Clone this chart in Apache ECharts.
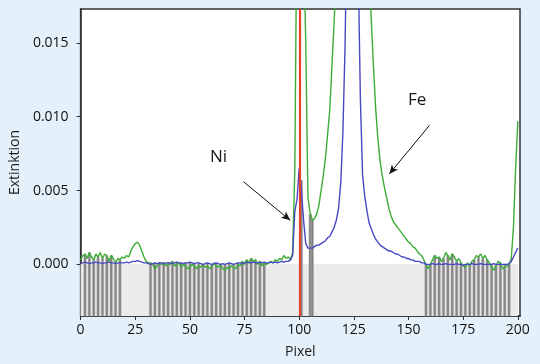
<!DOCTYPE html>
<html>
<head>
<meta charset="utf-8">
<script src="https://cdn.jsdelivr.net/npm/echarts@6/dist/echarts.min.js"></script>
<style>
html,body{margin:0;padding:0;background:#e4f1fb;}
#c{width:540px;height:364px;}
</style>
</head>
<body>
<div id="c"></div>
<script>
// Pixel index 0..200
const fe = [
0.0003,0.0006,0.0007,0.0004,0.0008,0.0005,0.0003,0.0007,0.0005,0.0008,
0.0004,0.0007,0.0006,0.0002,0.0006,0.0004,0.0001,0.0004,0.0003,0.0005,
0.0004,0.0006,0.0005,0.0009,0.0012,0.0014,0.0015,0.0013,0.0009,0.0005,
0.0002,0.0001,0.0001,0.0000,-0.0003,-0.0001,0.0001,0.0000,0.0001,-0.0001,
0.0001,0.0000,0.0002,-0.0001,0.0000,0.0001,-0.0002,0.0000,-0.0001,-0.0003,
-0.0002,0.0000,-0.0001,-0.0003,-0.0001,-0.0002,0.0000,-0.0002,-0.0001,-0.0003,
-0.0002,0.0001,-0.0001,-0.0002,0.0000,-0.0003,-0.0004,-0.0002,-0.0003,-0.0001,
-0.0002,-0.0003,0.0000,-0.0001,0.0002,0.0000,0.0003,0.0001,0.0004,0.0002,
0.0003,0.0000,0.0002,-0.0001,0.0001,0.0000,0.0001,0.0002,0.0001,0.0003,
0.0002,0.0004,0.0003,0.0006,0.0004,0.0005,0.0003,0.0008,0.0065,0.025,
0.035,0.030,0.022,0.015,0.0045,0.0035,0.0030,0.0031,0.0034,0.0040,
0.0050,0.0060,0.0072,0.0088,0.0105,0.0135,0.0165,0.0200,0.025,0.030,
0.035,0.040,0.045,0.048,0.050,0.050,0.048,0.045,0.040,0.035,
0.030,0.025,0.020,0.0165,0.0133,0.0105,0.0085,0.0070,0.0060,0.0052,
0.0045,0.0038,0.0033,0.0029,0.0027,0.0025,0.0023,0.0021,0.0019,0.0017,
0.0015,0.0014,0.0012,0.0011,0.0009,0.0007,0.0006,0.0003,0.0000,-0.0003,
0.0000,0.0003,0.0006,0.0004,0.0005,0.0002,0.0004,0.0008,0.0006,0.0003,
0.0007,0.0005,0.0002,0.0004,0.0001,-0.0001,-0.0002,0.0001,-0.0001,0.0002,
0.0003,0.0006,0.0005,0.0007,0.0004,0.0006,0.0003,0.0001,-0.0002,-0.0004,
-0.0001,0.0002,0.0001,-0.0003,-0.0002,-0.0001,0.0000,0.0004,0.0025,0.0065,
0.0097
];
const ni = [
0.0001,0.0001,0.00015,0.0001,0.00005,0.0001,0.0001,0.00015,0.0001,0.0001,
0.00005,0.0001,0.0001,0.00015,0.0001,0.0001,0.00005,0.0001,0.0001,0.0001,
0.0001,0.00015,0.0001,0.00015,0.0002,0.0002,0.00025,0.0002,0.00015,0.0001,
0.0001,0.00005,0.0000,0.00005,0.0001,0.00005,0.0001,0.0001,0.00005,0.0001,
0.0001,0.0001,0.00005,0.0001,0.00015,0.0001,0.0001,0.00005,0.0001,0.0001,
0.00015,0.0001,0.00005,0.0001,0.0001,0.00005,0.0000,0.00005,0.0001,0.00005,
0.0000,0.00005,0.0001,0.00005,0.0000,0.00005,0.0000,0.00005,0.0001,0.00005,
0.0000,0.00005,0.0001,0.0001,0.00005,0.0001,0.00015,0.0001,0.0001,0.00015,
0.0001,0.0001,0.00015,0.0001,0.00015,0.0001,0.0001,0.00015,0.0001,0.00015,
0.0001,0.00015,0.0002,0.00015,0.0002,0.0002,0.0003,0.0006,0.0036,0.0044,
0.0065,0.0050,0.0030,0.0014,0.0011,0.0011,0.0011,0.0012,0.0013,0.0013,
0.0014,0.0015,0.0016,0.0018,0.0019,0.0022,0.0025,0.0030,0.0038,0.0055,
0.0090,0.0150,0.025,0.035,0.040,0.040,0.035,0.020,0.0111,0.0060,
0.0046,0.0036,0.0028,0.0024,0.0020,0.0017,0.0015,0.0013,0.0012,0.0011,
0.0010,0.0009,0.0009,0.0008,0.0007,0.0007,0.0006,0.0005,0.0005,0.0004,
0.0004,0.0003,0.0003,0.0002,0.0002,0.0002,0.0001,0.0001,0.0000,0.0000,
0.0000,0.00005,0.0000,0.0000,0.00005,0.0000,0.0000,0.00005,0.0000,0.0000,
0.0000,0.0000,0.00005,0.0000,0.0000,-0.00005,0.0000,0.0000,0.0000,0.00005,
0.0000,0.0000,0.0000,0.00005,0.0000,0.0000,0.0000,0.0000,0.0000,0.00005,
0.0000,0.0000,0.0000,0.0000,0.0000,0.0000,0.00005,0.0002,0.0005,0.0008,
0.0011
];
const barPixels = [2,4,6,8,10,12,14,16,18,
32,34,36,38,40,42,44,46,48,50,52,54,56,58,60,62,64,66,68,70,72,74,76,78,80,82,84,
101,105,106,
158,160,162,164,166,168,170,172,174,176,178,180,182,184,186,188,190,192,194,196];
const barValues = [0.0007,0.0008,0.0003,0.0005,0.0004,0.0006,0.0006,0.0001,0.0003,
0.0001,0.0001,0.0001,0.0001,0.0001,0.0002,0.00015,0.0001,0.0001,0.00015,0.00005,0.0001,0.0000,0.0001,0.0000,0.0001,0.0000,0.0000,0.0001,0.0000,0.0001,0.0002,0.0003,0.0004,0.0003,0.0002,0.00015,
0.0057,0.0034,0.0030,
0.0000,0.0000,0.0006,0.0005,0.0004,0.0006,0.0007,0.0002,0.0001,0.0000,0.0000,0.0003,0.0005,0.0004,0.0003,0.0000,0.0000,0.0001,0.0000,0.0000];
const yTicks = [0, 0.005, 0.010, 0.015];
const xTicks = [0, 25, 50, 75, 100, 125, 150, 175, 200];
const markerPixel = 100.3;

const Y_MIN = -0.0035, Y_MAX = 0.0173, X_MIN = 0, X_MAX = 201;
const FONT = 'Open Sans';

const feData = fe.map((v, i) => [i, v]);
const niData = ni.map((v, i) => [i, v]);
const barData = barPixels.map((x, i) => [x, barValues[i]]);

const chart = echarts.init(document.getElementById('c'));
chart.setOption({
  backgroundColor: '#e4f1fb',
  animation: false,
  grid: {left: 80, right: 20, top: 9, bottom: 47, show: true, backgroundColor: '#ffffff', borderColor: '#333', borderWidth: 1.5},
  xAxis: {
    type: 'value', min: X_MIN, max: X_MAX,
    name: 'Pixel', nameLocation: 'middle', nameGap: 29,
    nameTextStyle: {fontFamily: FONT, fontSize: 14, color: '#1a1a1a'},
    axisLine: {show: true, onZero: false, lineStyle: {color: '#333', width: 1.5}},
    axisTick: {show: true, length: 4, lineStyle: {color: '#333'}, customValues: xTicks},
    axisLabel: {fontFamily: FONT, fontSize: 14, color: '#111', margin: 7, customValues: xTicks},
    splitLine: {show: false}
  },
  yAxis: {
    type: 'value', min: Y_MIN, max: Y_MAX,
    name: 'Extinktion', nameLocation: 'middle', nameGap: 58,
    nameTextStyle: {fontFamily: FONT, fontSize: 14, color: '#1a1a1a'},
    axisLine: {show: true, onZero: false, lineStyle: {color: '#333', width: 1.5}},
    axisTick: {show: true, length: 4, lineStyle: {color: '#333'}, customValues: yTicks},
    axisLabel: {fontFamily: FONT, fontSize: 14, color: '#111', margin: 12, customValues: yTicks,
      formatter: v => v.toFixed(3)},
    splitLine: {show: false}
  },
  series: [
    {
      type: 'line', data: [], z: 1, silent: true,
      markArea: {silent: true, itemStyle: {color: '#ebebeb'},
        data: [[{coord: [0, Y_MIN]}, {coord: [200, 0]}]]}
    },
    {
      type: 'custom', z: 2, data: barData, silent: true,
      renderItem: (params, api) => {
        const x = api.value(0), v = api.value(1);
        const top = api.coord([x, v]);
        const bot = api.coord([x, Y_MIN]);
        const w = 2.4;
        return {type: 'rect', shape: {x: top[0] - w / 2, y: top[1], width: w, height: bot[1] - top[1]},
          style: {fill: '#858585', stroke: '#a8a8a8', lineWidth: 0.4}};
      }
    },
    {
      type: 'line', name: 'Fe', data: feData, z: 3, showSymbol: false, symbol: 'none',
      lineStyle: {color: '#3aad36', width: 1.4}, clip: true
    },
    {
      type: 'line', name: 'Ni', data: niData, z: 4, showSymbol: false, symbol: 'none',
      lineStyle: {color: '#4848c4', width: 1.4}, clip: true,
      markLine: {
        silent: true, animation: false,
        label: {show: false},
        data: [
          [{coord: [74.5, 0.0056], symbol: 'none'}, {coord: [95.9, 0.00298], symbol: 'arrow', symbolSize: [6, 9]}],
          [{coord: [159.6, 0.00942], symbol: 'none'}, {coord: [141.2, 0.00612], symbol: 'arrow', symbolSize: [6, 9]}]
        ],
        lineStyle: {color: '#111', width: 1, type: 'solid'}
      },
      markPoint: {
        silent: true, symbol: 'circle', symbolSize: 0,
        label: {show: true, position: 'inside', fontFamily: FONT, fontSize: 17, color: '#1a1a1a'},
        data: [
          {coord: [63.1, 0.00729], value: 'Ni', label: {formatter: 'Ni'}},
          {coord: [153.9, 0.01115], value: 'Fe', label: {formatter: 'Fe'}}
        ]
      }
    },
    {
      type: 'line', data: [], z: 5, silent: true,
      markLine: {silent: true, symbol: 'none', label: {show: false},
        lineStyle: {color: '#e8412a', width: 2.2, type: 'solid'},
        data: [{xAxis: markerPixel}]}
    }
  ]
});
</script>
</body>
</html>
